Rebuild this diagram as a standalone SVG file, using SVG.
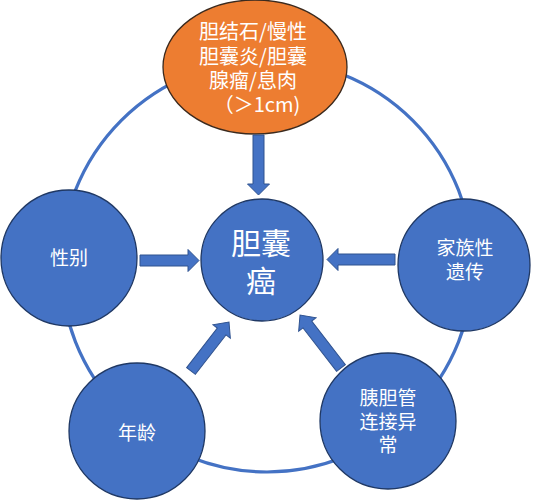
<svg xmlns="http://www.w3.org/2000/svg" width="534" height="500" viewBox="0 0 534 500">
<style>
.ring{fill:none;stroke:#4472C4;stroke-width:3.2}
.node{fill:#4472C4;stroke:#1F3864;stroke-width:1.3}
.top{fill:#ED7D31;stroke:#3B2A1E;stroke-width:1.3}
.arr{fill:#4472C4;stroke:#2F528F;stroke-width:1}
text{fill:#FFFFFF;font-family:"Noto Sans CJK SC","Noto Sans",sans-serif;text-anchor:middle}
.s19{font-size:19px}
.s20{font-size:20px}
.s30{font-size:30px}
</style>
<rect width="534" height="500" fill="#FFFFFF"/>
<g id="connectors">
<circle class="ring" cx="267" cy="266" r="206"/>
</g>
<g id="node-top">
<ellipse class="top" cx="255" cy="67" rx="92" ry="67"/>
<text class="s20"><tspan x="253" y="39">胆结石/慢性</tspan><tspan x="253" y="64">胆囊炎/胆囊</tspan><tspan x="253" y="88">腺瘤/息肉</tspan><tspan x="257" y="112">（＞1cm)</tspan></text>
</g>
<g id="node-center">
<circle class="node" cx="262" cy="260" r="61"/>
<text class="s30"><tspan x="261" y="254">胆囊</tspan><tspan x="261" y="292">癌</tspan></text>
</g>
<g id="node-left">
<circle class="node" cx="69" cy="258" r="68"/>
<text class="s19" x="69" y="265">性别</text>
</g>
<g id="node-right">
<circle class="node" cx="464" cy="265" r="66"/>
<text class="s19"><tspan x="465" y="255">家族性</tspan><tspan x="465" y="279">遗传</tspan></text>
</g>
<g id="node-bottom-left">
<circle class="node" cx="137" cy="431" r="68"/>
<text class="s19" x="137" y="440">年龄</text>
</g>
<g id="node-bottom-right">
<circle class="node" cx="388" cy="421" r="68"/>
<text class="s19"><tspan x="388" y="405">胰胆管</tspan><tspan x="388" y="429">连接异</tspan><tspan x="388" y="452">常</tspan></text>
</g>
<g id="arrows">
<polygon class="arr" transform="translate(258.5,135) rotate(90)" points="0,-5.5 49,-5.5 49,-11 60,0 49,11 49,5.5 0,5.5"/>
<polygon class="arr" transform="translate(140,260.5)" points="0,-5.5 48,-5.5 48,-11 59,0 48,11 48,5.5 0,5.5"/>
<polygon class="arr" transform="translate(395,259.5) rotate(180)" points="0,-5.5 57,-5.5 57,-11 68,0 57,11 57,5.5 0,5.5"/>
<polygon class="arr" transform="translate(191,371) rotate(-52.2)" points="0,-5.5 50,-5.5 50,-11 62,0 50,11 50,5.5 0,5.5"/>
<polygon class="arr" transform="translate(341,368) rotate(-127.7)" points="0,-5.5 55,-5.5 55,-11 67,0 55,11 55,5.5 0,5.5"/>
</g>
</svg>
